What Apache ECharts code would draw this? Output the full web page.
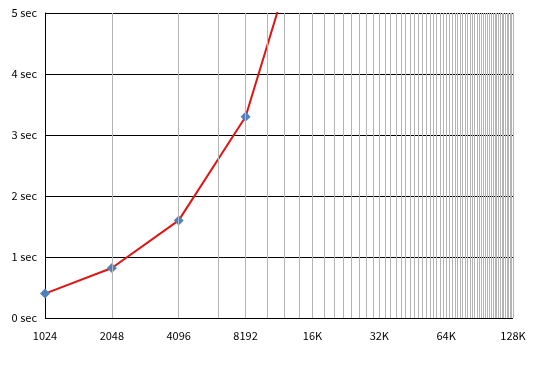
<!DOCTYPE html>
<html><head><meta charset="utf-8">
<script src="https://cdn.jsdelivr.net/npm/echarts@6/dist/echarts.min.js"></script>
<style>html,body{margin:0;padding:0;background:#fff}#c{width:539px;height:369px}</style>
</head><body><div id="c"></div>
<script>
const sizes = [1024, 2048, 4096, 8192, 16384];
const seconds = [0.40, 0.82, 1.60, 3.30, 6.90];
const xTickLabels = {1024:'1024',2048:'2048',4096:'4096',8192:'8192',16384:'16K',32768:'32K',65536:'64K',131072:'128K'};
const yMax = 5;

const gridXs = [];
for (let v = 2048; v <= 131072; v += 2048) gridXs.push(v);

const chart = echarts.init(document.getElementById('c'), null, {renderer:'canvas'});
chart.setOption({
  animation:false,
  textStyle:{fontFamily:'"Noto Sans CJK JP", sans-serif'},
  grid:{left:45, right:26, top:13, bottom:51, containLabel:false},
  xAxis:{
    type:'log', logBase:2, min:1024, max:131072, interval:1,
    axisLine:{show:false},
    axisTick:{show:false},
    splitLine:{show:false},
    axisLabel:{color:'#000', fontSize:11, margin:12,
      formatter:v=>xTickLabels[Math.round(v)] || ''}
  },
  yAxis:{
    type:'value', min:0, max:yMax, interval:1,
    axisLine:{show:true, lineStyle:{color:'#000', width:1}},
    axisTick:{show:false},
    splitLine:{show:true, lineStyle:{color:'#000', width:1}},
    axisLabel:{color:'#000', fontSize:11, margin:8, formatter:v=>v+' sec'}
  },
  series:[{
    type:'line', data:sizes.map((s,i)=>[s, seconds[i]]),
    clip:true,
    lineStyle:{color:'#e01414', width:2},
    symbol:'diamond', symbolSize:10,
    itemStyle:{color:'#4f81bd'},
    markLine:{silent:true, symbol:'none', label:{show:false},
      lineStyle:{color:'#b4b4b4', width:1, type:'solid'},
      data:gridXs.map(v=>({xAxis:v}))},
    z:3
  }]
});
</script></body></html>
